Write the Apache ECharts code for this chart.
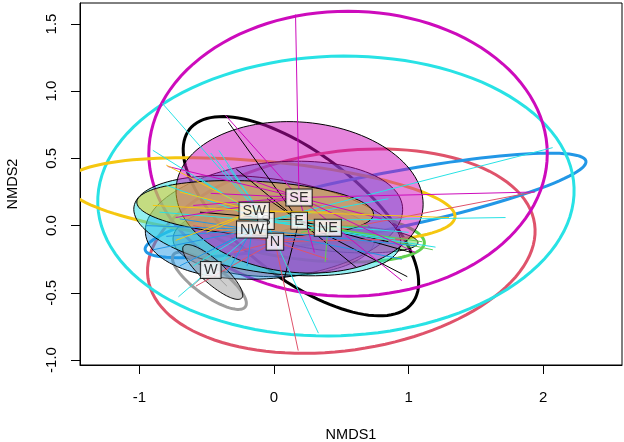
<!DOCTYPE html>
<html><head><meta charset="utf-8">
<script src="https://cdn.jsdelivr.net/npm/echarts@6/dist/echarts.min.js"></script>
<style>html,body{margin:0;padding:0;background:#fff}#c{width:624px;height:442px}</style>
</head><body><div id="c"></div>
<script>
// ---- data ----
const groups = ['E', 'N', 'NE', 'NW', 'S', 'SE', 'SW', 'W'];
const groupColors = ['#000000', '#DF536B', '#61D04F', '#2297E6', '#28E2E5', '#CD0BBC', '#F5C710', '#9E9E9E'];
const centroidX = [0.187, 0.007, 0.40, -0.163, -0.06, 0.186, -0.147, -0.47];
const centroidY = [0.036, -0.12, -0.016, -0.029, 0.034, 0.209, 0.11, -0.33];

// outline ellipses (per group): centre, semi-axes, rotation (deg)
const outlineCX = [0.20, 0.50, 0.30, 0.68, 0.46, 0.55, -0.10, -0.48];
const outlineCY = [0.07, -0.19, -0.06, 0.15, 0.22, 0.535, 0.19, -0.41];
const outlineA = [1.05, 1.45, 0.82, 1.67, 1.77, 1.48, 1.45, 0.33];
const outlineB = [0.46, 0.74, 0.20, 0.21, 1.04, 1.06, 0.29, 0.11];
const outlineAng = [-38, 8, -5, 11.4, 2, 0, -5, -36];

// filled ellipses (per group, null = none)
const fillCX = [null, 0.00, 0.55, 0.00, -0.05, 0.19, -0.14, -0.455];
const fillCY = [null, -0.10, -0.10, 0.04, 0.00, 0.21, 0.13, -0.345];
const fillA = [null, 0.75, 0.52, 0.96, 1.00, 0.92, 0.88, 0.29];
const fillB = [null, 0.28, 0.10, 0.43, 0.35, 0.56, 0.20, 0.085];
const fillAng = [null, 0, -3, 6, -8, -5, -3, -42];

// spider end points per group
const spiderE = [[-0.34, 0.77], [0.61, -0.31], [-0.28, 0.42], [0.07, -0.42], [1.02, -0.2], [0.85, -0.12], [-0.05, 0.2], [0.99, -0.38], [-0.55, 0.1]];
const spiderN = [[0.18, -0.93], [1.93, 0.25], [-0.58, -0.45], [0.95, -0.1], [-0.3, -0.2], [0.4, -0.25], [-0.6, 0.0], [0.1, -0.3]];
const spiderNE = [[0.38, -0.27], [1.1, -0.12], [1.18, -0.18], [0.9, -0.1], [0.2, -0.05], [0.7, 0.0]];
const spiderNW = [[-0.9, -0.18], [-0.95, 0.0], [-0.7, -0.3], [-0.5, -0.2], [1.05, -0.15], [0.95, -0.25], [-0.7, 0.05], [-0.35, -0.35], [-0.2, -0.3], [-0.8, -0.08]];
const spiderS = [[-0.83, 0.91], [0.33, -0.8], [-0.71, -0.53], [1.72, 0.06], [2.07, 0.58], [1.2, -0.16], [-0.41, 0.56], [-0.47, 0.54], [-0.9, 0.56], [-0.6, -0.3], [-0.8, 0.3], [0.9, -0.1], [-0.85, 0.1], [-0.55, 0.35], [0.85, 0.2], [-0.35, 0.45], [1.0, -0.05]];
const spiderSE = [[0.16, 1.57], [-0.36, 0.82], [0.95, -0.41], [-0.79, 0.44], [-0.73, 0.06], [-0.47, 0.24], [1.94, 0.25], [1.05, -0.2], [0.3, -0.2], [-0.2, 0.35], [0.8, 0.05], [-0.6, 0.15]];
const spiderSW = [[-0.73, -0.11], [-0.8, 0.45], [1.3, 0.06], [-0.7, 0.25], [-0.5, -0.05], [0.4, 0.1], [-0.9, 0.15]];
const spiderW = [[-0.62, -0.46], [-0.3, -0.22], [-0.55, -0.25], [-0.35, -0.45]];
const spiderSets = [spiderE, spiderN, spiderNE, spiderNW, spiderS, spiderSE, spiderSW, spiderW];

const labelOrder = ['S', 'E', 'N', 'NE', 'NW', 'SE', 'SW', 'W'];

const xTicks = [-1, 0, 1, 2];
const xTickLabels = ['-1', '0', '1', '2'];
const yTicks = [-1, -0.5, 0, 0.5, 1, 1.5];
const yTickLabels = ['-1.0', '-0.5', '0.0', '0.5', '1.0', '1.5'];

// ---- helpers ----
function hexA(hex, a) {
  const r = parseInt(hex.slice(1, 3), 16), g = parseInt(hex.slice(3, 5), 16), b = parseInt(hex.slice(5, 7), 16);
  return 'rgba(' + r + ',' + g + ',' + b + ',' + a + ')';
}
function ellipsePts(api, cx, cy, a, b, angDeg) {
  const th = angDeg * Math.PI / 180, pts = [];
  for (let i = 0; i < 120; i++) {
    const t = i / 120 * 2 * Math.PI;
    const x = cx + a * Math.cos(t) * Math.cos(th) - b * Math.sin(t) * Math.sin(th);
    const y = cy + a * Math.cos(t) * Math.sin(th) + b * Math.sin(t) * Math.cos(th);
    pts.push(api.coord([x, y]));
  }
  return pts;
}

const outlineData = groups.map((g, i) => [outlineCX[i], outlineCY[i], outlineA[i], outlineB[i], outlineAng[i], i]);
const fillData = [];
groups.forEach((g, i) => { if (fillCX[i] !== null) fillData.push([fillCX[i], fillCY[i], fillA[i], fillB[i], fillAng[i], i]); });
const spiderData = [];
groups.forEach((g, i) => spiderSets[i].forEach(p => spiderData.push([centroidX[i], centroidY[i], p[0], p[1], i])));
const labelData = labelOrder.map(g => { const i = groups.indexOf(g); return { value: [centroidX[i], centroidY[i]], name: g }; });

const chart = echarts.init(document.getElementById('c'), null, { renderer: 'canvas' });
const font = 'Liberation Sans, Arial, sans-serif';
chart.setOption({
  animation: false,
  backgroundColor: '#fff',
  grid: { left: 80, top: 3, width: 542, height: 362, outerBoundsMode: 'none', containLabel: false,
    show: true, borderColor: '#000', borderWidth: 1, backgroundColor: 'transparent' },
  xAxis: {
    type: 'value', min: -1.441, max: 2.585,
    axisLine: { show: true, onZero: false, lineStyle: { color: '#000', width: 1 } },
    splitLine: { show: false },
    axisTick: { show: true, customValues: xTicks, length: 9, lineStyle: { color: '#000' } },
    axisLabel: { customValues: xTicks, margin: 25, fontSize: 15, color: '#000', fontFamily: font,
      formatter: v => xTickLabels[xTicks.indexOf(v)] },
    name: 'NMDS1', nameLocation: 'middle', nameGap: 62,
    nameTextStyle: { fontSize: 14.5, color: '#000', fontFamily: font }
  },
  yAxis: {
    type: 'value', min: -1.037, max: 1.656,
    axisLine: { show: true, onZero: false, lineStyle: { color: '#000', width: 1 } },
    splitLine: { show: false },
    axisTick: { show: true, customValues: yTicks, length: 9, lineStyle: { color: '#000' } },
    axisLabel: { customValues: yTicks, rotate: 90, margin: 21, fontSize: 15, color: '#000', fontFamily: font,
      formatter: v => yTickLabels[yTicks.indexOf(v)] },
    name: 'NMDS2', nameLocation: 'middle', nameGap: 60, nameRotate: 90,
    nameTextStyle: { fontSize: 14.5, color: '#000', fontFamily: font }
  },
  series: [
    {
      type: 'custom', name: 'outlines', clip: true, z: 2, data: outlineData,
      renderItem: (params, api) => {
        const d = outlineData[params.dataIndex];
        return { type: 'polygon', shape: { points: ellipsePts(api, d[0], d[1], d[2], d[3], d[4]) },
          style: { fill: 'none', stroke: groupColors[d[5]], lineWidth: 3 } };
      }
    },
    {
      type: 'custom', name: 'fills', clip: true, z: 3, data: fillData,
      renderItem: (params, api) => {
        const d = fillData[params.dataIndex];
        return { type: 'polygon', shape: { points: ellipsePts(api, d[0], d[1], d[2], d[3], d[4]) },
          style: { fill: hexA(groupColors[d[5]], 0.5), stroke: '#000', lineWidth: 1 } };
      }
    },
    {
      type: 'custom', name: 'spiders', clip: true, z: 4, data: spiderData,
      renderItem: (params, api) => {
        const d = spiderData[params.dataIndex];
        const p1 = api.coord([d[0], d[1]]), p2 = api.coord([d[2], d[3]]);
        return { type: 'line', shape: { x1: p1[0], y1: p1[1], x2: p2[0], y2: p2[1] },
          style: { stroke: groupColors[d[4]], lineWidth: 1 } };
      }
    },
    {
      type: 'scatter', name: 'labels', z: 5, symbolSize: 1, itemStyle: { color: 'transparent' },
      data: labelData,
      label: { show: true, position: 'inside', formatter: p => p.name, fontSize: 14.5, color: '#000', fontFamily: font,
        backgroundColor: '#fff', borderColor: '#000', borderWidth: 1, padding: [1, 3, 0, 3] }
    }
  ]
});
</script></body></html>
